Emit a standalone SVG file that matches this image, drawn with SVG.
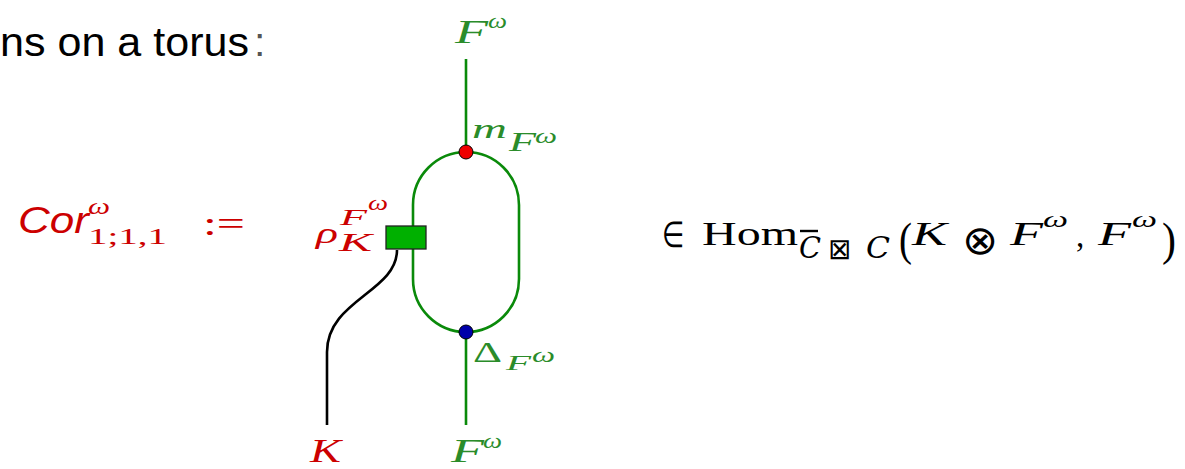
<svg xmlns="http://www.w3.org/2000/svg" width="1185" height="469" viewBox="0 0 1185 469">
<style>
text{font-family:"Liberation Serif",serif}
.g{fill:#2a8c2a;font-style:italic}
.r{fill:#cc0000;font-style:italic}
.ru{fill:#cc0000}
.k{fill:#000}
.ki{fill:#000;font-style:italic}
.gl{stroke:#0a8a0a;stroke-width:2.6;fill:none}
</style>
<rect width="1185" height="469" fill="#fff"/>
<text x="0" y="56" font-size="41" style="font-family:'Liberation Sans',sans-serif" textLength="249" lengthAdjust="spacingAndGlyphs" fill="#000">ns on a torus</text>
<text x="254" y="56" font-size="41" style="font-family:'Liberation Sans',sans-serif" fill="#555">:</text>
<g id="title">
<text x="18" y="233" font-size="37" style="font-family:'Liberation Sans',sans-serif;font-style:italic" fill="#cc0000" textLength="71" lengthAdjust="spacingAndGlyphs">Cor</text>
<text x="88" y="214" class="r" font-size="24" textLength="22" lengthAdjust="spacingAndGlyphs">ω</text>
<text x="88" y="244" class="ru" font-size="23" textLength="79" lengthAdjust="spacingAndGlyphs">1;1,1</text>
<text x="203" y="235" class="ru" font-size="34" textLength="42" lengthAdjust="spacingAndGlyphs">:=</text>
</g>
<g id="connectors">
<line class="gl" x1="466" y1="59" x2="466" y2="152"/>
<path class="gl" d="M413,205 A53,53 0 0 1 519,205 L519,279 A53,53 0 0 1 413,279 Z"/>
<line class="gl" x1="466" y1="332" x2="466" y2="425"/>
<path d="M397,250 C397,292 327,300 327,352 L327,425" stroke="#000" stroke-width="2.6" fill="none"/>
</g>
<g id="rho">
<rect x="386" y="226" width="40" height="23" fill="#00b000" stroke="#222" stroke-width="1.3"/>
<text x="316" y="243" class="r" font-size="30" textLength="22" lengthAdjust="spacingAndGlyphs">ρ</text>
<text x="340" y="225" class="r" font-size="23" textLength="27" lengthAdjust="spacingAndGlyphs">F</text>
<text x="368" y="210" class="r" font-size="20" textLength="20" lengthAdjust="spacingAndGlyphs">ω</text>
<text x="339" y="251" class="r" font-size="25" textLength="33" lengthAdjust="spacingAndGlyphs">K</text>
</g>
<g id="m">
<circle cx="466" cy="152" r="7" fill="#ee0000" stroke="#000" stroke-width="1"/>
<text x="472" y="138" class="g" font-size="28" textLength="35" lengthAdjust="spacingAndGlyphs">m</text>
<text x="509" y="151" class="g" font-size="27" textLength="27" lengthAdjust="spacingAndGlyphs">F</text>
<text x="535" y="143" class="g" font-size="22" textLength="22" lengthAdjust="spacingAndGlyphs">ω</text>
</g>
<g id="delta">
<circle cx="466" cy="332" r="7" fill="#0000aa" stroke="#000" stroke-width="1"/>
<text x="473" y="362" font-size="29" fill="#2a8c2a" textLength="29" lengthAdjust="spacingAndGlyphs">Δ</text>
<text x="506" y="370" class="g" font-size="21" textLength="25" lengthAdjust="spacingAndGlyphs">F</text>
<text x="532" y="362" class="g" font-size="22" textLength="23" lengthAdjust="spacingAndGlyphs">ω</text>
</g>
<g id="labels">
<text x="455" y="43" class="g" font-size="33" textLength="33" lengthAdjust="spacingAndGlyphs">F</text>
<text x="488" y="28" class="g" font-size="22" textLength="19" lengthAdjust="spacingAndGlyphs">ω</text>
<text x="451" y="462" class="g" font-size="33" textLength="33" lengthAdjust="spacingAndGlyphs">F</text>
<text x="483" y="448" class="g" font-size="22" textLength="19" lengthAdjust="spacingAndGlyphs">ω</text>
<text x="310" y="462" class="r" font-size="34" textLength="31" lengthAdjust="spacingAndGlyphs">K</text>
</g>
<g id="hom">
<text x="662" y="247" class="k" font-size="36" textLength="22" lengthAdjust="spacingAndGlyphs">∈</text>
<text x="702" y="245" class="k" font-size="34" textLength="96" lengthAdjust="spacingAndGlyphs">Hom</text>
<line x1="800" y1="231" x2="818" y2="231" stroke="#000" stroke-width="2.4"/>
<text x="799" y="258" class="ki" font-size="29" style="font-family:'DejaVu Serif',serif" textLength="22" lengthAdjust="spacingAndGlyphs">C</text>
<text x="828" y="259" class="k" font-size="29" style="font-family:'DejaVu Sans',sans-serif" textLength="23" lengthAdjust="spacingAndGlyphs">⊠</text>
<text x="866" y="258" class="ki" font-size="29" style="font-family:'DejaVu Serif',serif" textLength="24" lengthAdjust="spacingAndGlyphs">C</text>
<text x="899" y="255" class="k" font-size="46" textLength="13" lengthAdjust="spacingAndGlyphs">(</text>
<text x="912" y="245" class="ki" font-size="33" textLength="35" lengthAdjust="spacingAndGlyphs">K</text>
<text x="962" y="254" class="k" font-size="40" style="font-family:'DejaVu Sans',sans-serif" textLength="36" lengthAdjust="spacingAndGlyphs">⊗</text>
<text x="1010" y="245" class="ki" font-size="33" textLength="33" lengthAdjust="spacingAndGlyphs">F</text>
<text x="1043" y="227" class="ki" font-size="24" textLength="25" lengthAdjust="spacingAndGlyphs">ω</text>
<text x="1076" y="247" class="k" font-size="33">,</text>
<text x="1098" y="245" class="ki" font-size="33" textLength="33" lengthAdjust="spacingAndGlyphs">F</text>
<text x="1132" y="227" class="ki" font-size="24" textLength="25" lengthAdjust="spacingAndGlyphs">ω</text>
<text x="1162" y="255" class="k" font-size="46" textLength="14" lengthAdjust="spacingAndGlyphs">)</text>
</g>
</svg>
